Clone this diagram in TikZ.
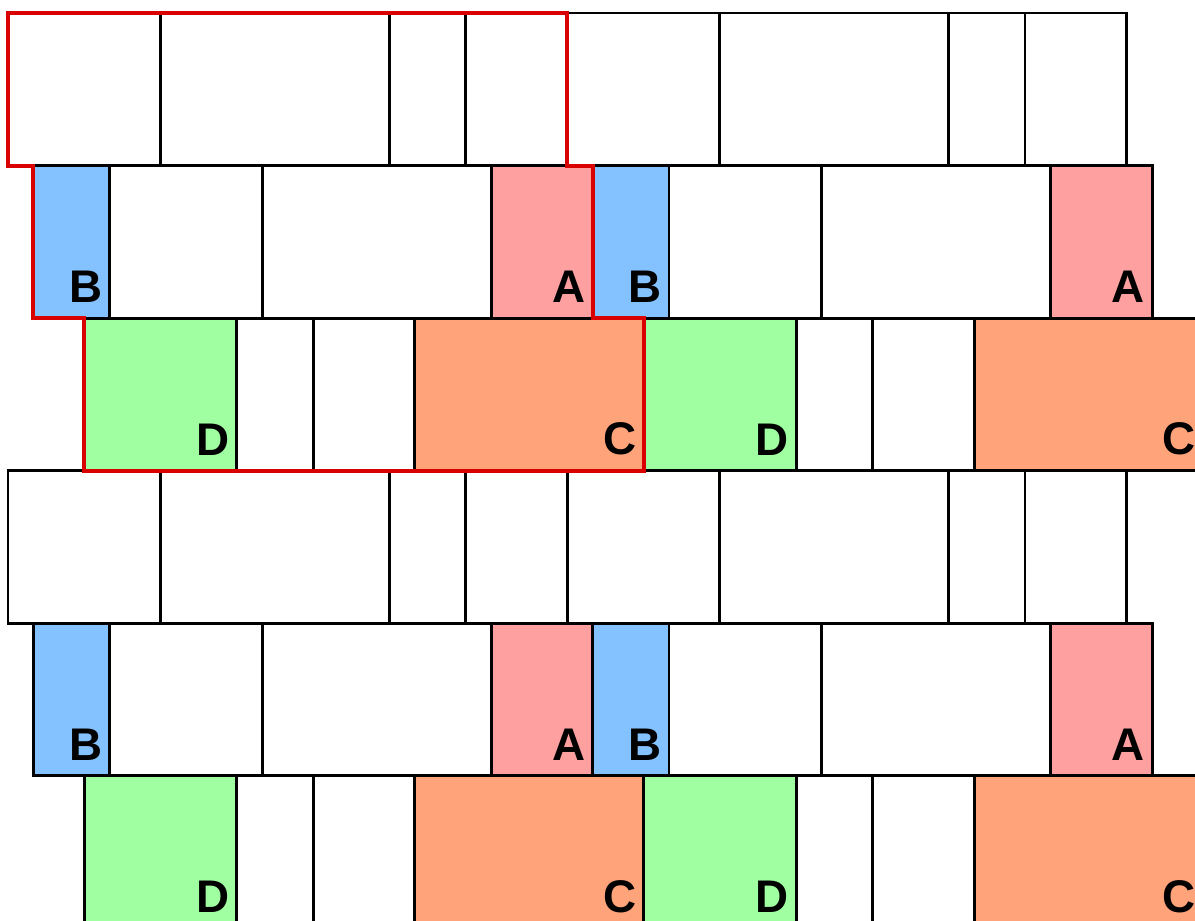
\documentclass[tikz,border=0pt]{standalone}
\usepackage{fontspec}
\newfontfamily\tilefont{Liberation Sans}
\usetikzlibrary{positioning}
\definecolor{tileA}{RGB}{255,160,160}
\definecolor{tileB}{RGB}{132,193,255}
\definecolor{tileC}{RGB}{255,163,122}
\definecolor{tileD}{RGB}{160,255,160}
\tikzset{
  tileBox/.style={draw=black, line width=0.8pt, fill=white},
  tileLbl/.style={anchor=south east, inner sep=0pt, font=\tilefont\bfseries\fontsize{12.8}{13}\selectfont},
  tileOutline/.style={draw=red!85!black, line width=1.1pt, line join=miter},
}

\begin{document}
\begin{tikzpicture}[x=1cm, y=-1cm]
\useasboundingbox (-0.079,-0.128) rectangle (11.672,8.928);
\begin{scope}
\clip (-0.079,-0.128) rectangle (11.672,8.928);
\foreach \dy in {0,4.5} {
  \foreach \dx in {0,5.5} {
    % first row
    \foreach \x/\w in {0/1.5, 1.5/2.25, 3.75/0.75, 4.5/1}
      \draw[tileBox] (\x+\dx,\dy) rectangle ++(\w,1.5);
    % second row
    \foreach \x/\w/\c in {0.25/0.75/tileB, 1/1.5/white, 2.5/2.25/white, 4.75/1/tileA}
      \draw[tileBox, fill=\c] (\x+\dx,\dy+1.5) rectangle ++(\w,1.5);
    % third row
    \foreach \x/\w/\c in {0.75/1.5/tileD, 2.25/0.75/white, 3/1/white, 4/2.25/tileC}
      \draw[tileBox, fill=\c] (\x+\dx,\dy+3) rectangle ++(\w,1.5);
  }
}

% letters in the coloured tiles
\foreach \dy [count=\m] in {0,4.5} {
  \foreach \dx [count=\n] in {0,5.5} {
    \foreach \x/\y/\t in {1/3/B, 5.75/3/A, 2.25/4.5/D, 6.25/4.5/C}
      \node[tileLbl] (lbl\t\m\n) at (\x+\dx-0.065,\y+\dy-0.145) {\t};
  }
}
\end{scope}

% outline of one repeat
\draw[tileOutline] (0,0) -- (5.5,0) -- (5.5,1.5) -- (5.75,1.5) -- (5.75,3)
  -- (6.25,3) -- (6.25,4.5) -- (0.75,4.5) -- (0.75,3) -- (0.25,3)
  -- (0.25,1.5) -- (0,1.5) -- cycle;
\end{tikzpicture}
\end{document}
